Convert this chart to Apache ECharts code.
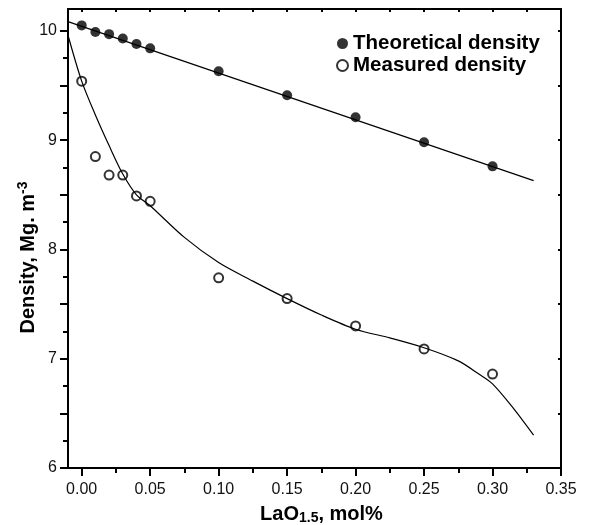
<!DOCTYPE html>
<html>
<head>
<meta charset="utf-8">
<script src="https://cdn.jsdelivr.net/npm/echarts@6/dist/echarts.min.js"></script>
<style>
  html, body { margin: 0; padding: 0; background: #fff; }
  #chart { width: 591px; height: 525px; }
</style>
</head>
<body>
<div id="chart"></div>
<script>
// LaO1.5 content (mol%) of the samples
const composition = [0, 0.01, 0.02, 0.03, 0.04, 0.05, 0.10, 0.15, 0.20, 0.25, 0.30];
const theoreticalDensity = [10.05, 9.99, 9.97, 9.93, 9.88, 9.84, 9.63, 9.41, 9.21, 8.98, 8.76];
const measuredDensity = [9.54, 8.85, 8.68, 8.68, 8.49, 8.44, 7.74, 7.55, 7.30, 7.09, 6.86];

// fitted lines as drawn in the figure
const theoreticalFitX = [-0.01, 0.33];
const theoreticalFitY = [10.085, 8.63];
const measuredFitX = [-0.01, 0, 0.01, 0.02, 0.03, 0.04, 0.05, 0.075, 0.10, 0.125, 0.15, 0.175, 0.20, 0.225, 0.25, 0.275, 0.29, 0.30, 0.315, 0.33];
const measuredFitY = [9.96, 9.54, 9.23, 8.95, 8.69, 8.50, 8.40, 8.11, 7.88, 7.71, 7.55, 7.40, 7.27, 7.19, 7.10, 6.98, 6.86, 6.77, 6.55, 6.30];

// ticks
const xMajorTicks = [0, 0.05, 0.10, 0.15, 0.20, 0.25, 0.30, 0.35];
const xMinorTicks = [0.025, 0.075, 0.125, 0.175, 0.225, 0.275, 0.325];
const xTopTicks = [0, 0.025, 0.05, 0.075, 0.10, 0.125, 0.15, 0.175, 0.20, 0.225, 0.25, 0.275, 0.30, 0.325, 0.35];
const yLabels = [6, 7, 8, 9, 10];
const yMajorTicks = [6, 6.5, 7, 7.5, 8, 8.5, 9, 9.5, 10];
const yMinorTicks = [6.25, 6.75, 7.25, 7.75, 8.25, 8.75, 9.25, 9.75];

const font = '"Liberation Sans", Arial, sans-serif';
const X_MIN = -0.01, X_MAX = 0.35, Y_MIN = 6, Y_MAX = 10.2;

const pairs = (xs, ys) => xs.map((x, i) => [x, ys[i]]);
const black = { color: '#000', width: 2 };

const chart = echarts.init(document.getElementById('chart'));

const options = {
  animation: false,
  backgroundColor: '#fff',
  grid: { left: 68, right: 30, top: 9, bottom: 57, outerBoundsMode: 'none' },
  legend: {
    orient: 'vertical',
    left: 331,
    top: 28,
    itemWidth: 11,
    itemHeight: 11,
    itemGap: 1,
    textStyle: { fontSize: 20.5, fontWeight: 'bold', fontFamily: font, color: '#000', lineHeight: 20 },
    data: [
      { name: 'Theoretical density', icon: 'circle' },
      { name: 'Measured density', icon: 'emptyCircle' }
    ]
  },
  xAxis: [
    {
      type: 'value', position: 'bottom', min: X_MIN, max: X_MAX,
      axisLine: { show: true, onZero: false, lineStyle: black },
      axisTick: { show: true, customValues: xMajorTicks, length: 8, lineStyle: black },
      axisLabel: {
        customValues: xMajorTicks, formatter: v => v.toFixed(2),
        fontSize: 16, color: '#111', fontFamily: font, margin: 14
      },
      splitLine: { show: false },
      name: '{a|LaO}{b|1.5}{a|, mol%}',
      nameLocation: 'middle',
      nameGap: 35,
      nameMoveOverlap: false,
      nameTextStyle: {
        padding: [0, 0, 0, 14],
        rich: {
          a: { fontSize: 20, fontWeight: 'bold', fontFamily: font, color: '#000' },
          b: { fontSize: 14, fontWeight: 'bold', fontFamily: font, color: '#000', padding: [8, 0, 0, 0] }
        }
      }
    },
    {
      type: 'value', position: 'bottom', min: X_MIN, max: X_MAX,
      axisLine: { show: false, onZero: false },
      axisTick: { show: true, customValues: xMinorTicks, length: 5, lineStyle: black },
      axisLabel: { show: false },
      splitLine: { show: false }
    },
    {
      type: 'value', position: 'top', min: X_MIN, max: X_MAX,
      axisLine: { show: true, onZero: false, lineStyle: black },
      axisTick: { show: true, inside: true, customValues: xTopTicks, length: 3, lineStyle: black },
      axisLabel: { show: false },
      splitLine: { show: false }
    }
  ],
  yAxis: [
    {
      type: 'value', position: 'left', min: Y_MIN, max: Y_MAX,
      axisLine: { show: true, onZero: false, lineStyle: black },
      axisTick: { show: true, customValues: yMajorTicks, length: 8, lineStyle: black },
      axisLabel: { customValues: yLabels, fontSize: 16, color: '#111', fontFamily: font, margin: 11 },
      splitLine: { show: false },
      name: '{a|Density, Mg. m}{b|-3}',
      nameLocation: 'middle',
      nameGap: 28,
      nameMoveOverlap: false,
      nameTextStyle: {
        padding: [0, 38, 0, 0],
        rich: {
          a: { fontSize: 20, fontWeight: 'bold', fontFamily: font, color: '#000' },
          b: { fontSize: 14, fontWeight: 'bold', fontFamily: font, color: '#000', padding: [0, 0, 10, 0] }
        }
      }
    },
    {
      type: 'value', position: 'left', min: Y_MIN, max: Y_MAX,
      axisLine: { show: false, onZero: false },
      axisTick: { show: true, customValues: yMinorTicks, length: 5, lineStyle: black },
      axisLabel: { show: false },
      splitLine: { show: false }
    },
    {
      type: 'value', position: 'right', min: Y_MIN, max: Y_MAX,
      axisLine: { show: true, onZero: false, lineStyle: black },
      axisTick: { show: true, inside: true, customValues: yMajorTicks, length: 3, lineStyle: black },
      axisLabel: { show: false },
      splitLine: { show: false }
    }
  ],
  series: [
    {
      name: 'Theoretical fit', type: 'line', showSymbol: false, silent: true,
      data: pairs(theoreticalFitX, theoreticalFitY),
      lineStyle: { color: '#000', width: 1.2 }
    },
    {
      name: 'Measured fit', type: 'line', showSymbol: false, silent: true, smooth: 0.3,
      data: pairs(measuredFitX, measuredFitY),
      lineStyle: { color: '#000', width: 1.2 }
    },
    {
      name: 'Theoretical density', type: 'scatter', symbol: 'circle', symbolSize: 10,
      data: pairs(composition, theoreticalDensity),
      itemStyle: { color: '#000' }
    },
    {
      name: 'Measured density', type: 'scatter', symbol: 'emptyCircle', symbolSize: 9,
      data: pairs(composition, measuredDensity),
      itemStyle: { color: '#000', borderColor: '#000', borderWidth: 1 }
    }
  ]
};

chart.setOption(options);
</script>
</body>
</html>
